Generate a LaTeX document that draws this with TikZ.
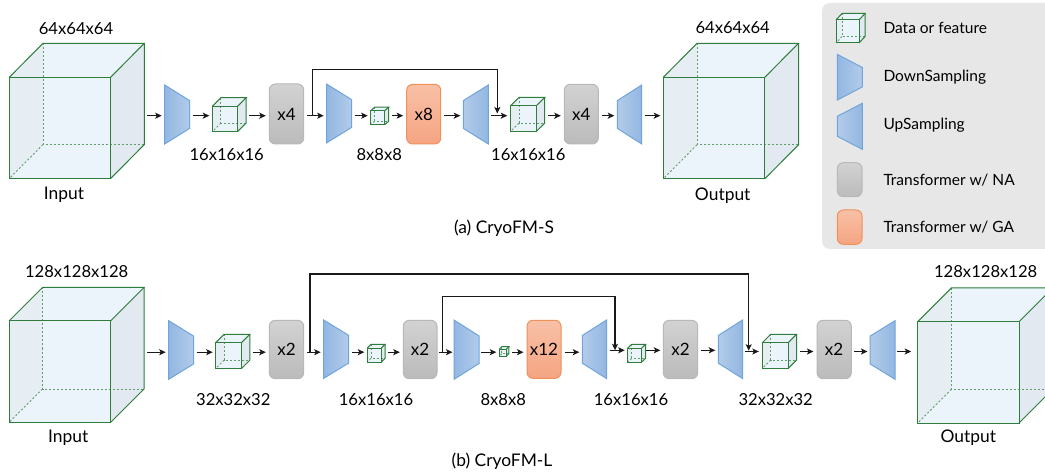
\documentclass[tikz,border=0pt]{standalone}
\usepackage{fontspec}
\setmainfont{Lato}
\usetikzlibrary{arrows.meta}
\definecolor{cubeline}{HTML}{2E7D3A}
\definecolor{cubeback}{HTML}{ECF4FB}
\definecolor{cubeleft}{HTML}{E6EEF3}
\definecolor{cuberight}{HTML}{E2E9F0}
\definecolor{blueline}{HTML}{6FA5DC}
\definecolor{bluedark}{HTML}{93B7E2}
\definecolor{bluelight}{HTML}{B2CBE9}
\definecolor{grayline}{HTML}{B8B8B8}
\definecolor{graytop}{HTML}{D2D2D2}
\definecolor{graybot}{HTML}{BBBBBB}
\definecolor{orline}{HTML}{F0905A}
\definecolor{ortop}{HTML}{F8C0A6}
\definecolor{orbot}{HTML}{F5A582}
\definecolor{legendbg}{HTML}{E7E7E7}
\tikzset{
  arr/.style={-{Stealth[length=6.5pt,width=6pt,inset=1.5pt]},line width=1.05pt,black!90},
  gap/.style={shorten >=3pt,shorten <=3pt},
  solidedge/.style={cubeline,line width=1pt,line join=miter},
  hiddenedge/.style={cubeline!75,line width=.9pt,dash pattern=on 2pt off 2pt},
  hit/.style={inner sep=0pt,outer sep=0pt,draw=none,fill=none,minimum width=#1},
  sampler/.style={draw=blueline,line width=1pt,line join=miter},
  nabox/.style={draw=grayline,line width=1pt,rounded corners=6pt,top color=graytop,bottom color=graybot,inner sep=0pt,font=\fontsize{17}{20}\selectfont},
  gabox/.style={draw=orline,line width=1pt,rounded corners=6pt,top color=ortop,bottom color=orbot,inner sep=0pt,font=\fontsize{17}{20}\selectfont},
  lab/.style={inner sep=0pt,font=\fontsize{16.6}{19}\selectfont},
  wlab/.style={inner sep=0pt,font=\fontsize{17.4}{20}\selectfont},
  leg/.style={inner sep=0pt,anchor=west,font=\fontsize{15.5}{18}\selectfont},
}
% name, front-left x, front-top y, side, dx, dy
\newcommand{\cubeshape}[6]{%
  \pgfmathsetmacro{\fl}{#2}\pgfmathsetmacro{\ft}{#3}
  \pgfmathsetmacro{\fr}{#2+#4}\pgfmathsetmacro{\fb}{#3+#4}
  \pgfmathsetmacro{\bl}{#2+#5}\pgfmathsetmacro{\bt}{#3-#6}
  \pgfmathsetmacro{\br}{#2+#4+#5}\pgfmathsetmacro{\bb}{#3+#4-#6}
  \fill[cubeback] (\fl,\ft) -- (\bl,\bt) -- (\br,\bt) -- (\br,\bb) -- (\fr,\fb) -- (\fl,\fb) -- cycle;
  \fill[cubeleft] (\fl,\ft) -- (\bl,\bt) -- (\bl,\bb) -- (\fl,\fb) -- cycle;
  \fill[cuberight] (\fr,\ft) -- (\br,\bt) -- (\br,\bb) -- (\fr,\fb) -- cycle;
  \draw[hiddenedge] (\bl,\bt) -- (\bl,\bb) -- (\br,\bb);
  \draw[hiddenedge] (\bl,\bb) -- (\fl,\fb);
  \draw[solidedge] (\fl,\ft) rectangle (\fr,\fb);
  \draw[solidedge] (\fl,\ft) -- (\bl,\bt) -- (\br,\bt) -- (\fr,\ft);
  \draw[solidedge] (\br,\bt) -- (\br,\bb) -- (\fr,\fb);
  \node[hit=#4+#5,minimum height=#4+#6] (#1) at ({#2+(#4+#5)/2},{#3-#6+(#4+#6)/2}) {};
}
% name, left x, right x, y centre, tall height, short height
\newcommand{\downs}[6]{%
  \path[sampler,left color=bluedark,right color=bluelight]
    (#2,#4-#5/2) -- (#3,#4-#6/2) -- (#3,#4+#6/2) -- (#2,#4+#5/2) -- cycle;
  \node[hit=#3-#2,minimum height=#5] (#1) at ({(#2+#3)/2},#4) {};
}
\newcommand{\ups}[6]{%
  \path[sampler,left color=bluelight,right color=bluedark]
    (#2,#4-#6/2) -- (#3,#4-#5/2) -- (#3,#4+#5/2) -- (#2,#4+#6/2) -- cycle;
  \node[hit=#3-#2,minimum height=#5] (#1) at ({(#2+#3)/2},#4) {};
}
% style, name, left, right, top, bottom, text
\newcommand{\tbox}[7]{%
  \node[#1,minimum width=#4-#3,minimum height=#6-#5] (#2) at ({(#3+#4)/2},{(#5+#6)/2}) {#7};
}
\newcommand{\link}[3]{\draw[arr,gap] (#1.east |- #3) -- (#2.west |- #3);}
\begin{document}
\begin{tikzpicture}[x=1pt,y=-1pt]
\clip (0,0) rectangle (1045,473);
\fill[white] (0,0) rectangle (1045,473);
\coordinate (rS) at (0,115.7);
\coordinate (rLa) at (0,352.2);
\coordinate (rLb) at (0,350.3);
\coordinate (rLc) at (0,351.5);

% legend
\fill[legendbg,rounded corners=8pt] (822,3) rectangle (1065,249);
\cubeshape{lgcube}{836}{20}{23}{6}{6.5}
\downs{lgdown}{837.3}{862.3}{77.2}{45.7}{19.4}
\ups{lgup}{837.3}{862.3}{126.3}{46}{20}
\tbox{nabox}{lgna}{837.3}{862}{162.7}{196.7}{}
\tbox{gabox}{lgga}{837.3}{862}{210}{244.3}{}
\node[leg] (lt1) at (883.3,28) {Data or feature};
\node[leg] (lt2) at (883.3,77) {DownSampling};
\node[leg] (lt3) at (883.3,125) {UpSampling};
\node[leg] (lt4) at (883.3,180) {Transformer w/ NA};
\node[leg] (lt5) at (883.3,227) {Transformer w/ GA};

% (a) CryoFM-S
\cubeshape{sIn}{9.3}{77.3}{101.3}{33.7}{34}
\downs{sD1}{164.7}{189.7}{114.5}{59}{27.7}
\cubeshape{sC1}{212.3}{106.3}{25.3}{8.6}{8.6}
\tbox{nabox}{sT1}{269.3}{303.7}{84}{144}{x4}
\downs{sD2}{326.7}{351.7}{113.5}{58.7}{27.7}
\cubeshape{sC2}{370.7}{110.7}{14}{4}{3.5}
\tbox{gabox}{sT2}{406.7}{440.7}{84.3}{144}{x8}
\ups{sU1}{463.3}{488.3}{114.5}{59}{27.7}
\cubeshape{sC3}{510.3}{106}{25.7}{8.7}{8.5}
\tbox{nabox}{sT3}{564.3}{598.3}{84.3}{144}{x4}
\ups{sU2}{617.3}{641.7}{114.5}{59}{27.7}
\cubeshape{sOut}{663.3}{77.3}{101.5}{33.7}{34}

\link{sIn}{sD1}{rS}
\link{sD1}{sC1}{rS}
\link{sC1}{sT1}{rS}
\link{sT1}{sD2}{rS}
\link{sD2}{sC2}{rS}
\link{sC2}{sT2}{rS}
\link{sT2}{sU1}{rS}
\link{sU1}{sC3}{rS}
\link{sC3}{sT3}{rS}
\link{sT3}{sU2}{rS}
\link{sU2}{sOut}{rS}
\coordinate (sSkipA) at (312.3,115.7);
\coordinate (sSkipB) at (497.3,113.5);
\coordinate (sSkipTop) at (0,69.7);
\draw[arr] (sSkipA) -- (sSkipA |- sSkipTop) -- (sSkipB |- sSkipTop) -- (sSkipB);

\node[lab] (sl1) at (76,29) {64x64x64};
\node[wlab] (sl2) at (64,195) {Input};
\node[lab] (sl3) at (226.7,154.3) {16x16x16};
\node[lab] (sl4) at (379.3,154.3) {8x8x8};
\node[lab] (sl5) at (528.3,154.3) {16x16x16};
\node[lab] (sl6) at (732.7,28) {64x64x64};
\node[wlab] (sl7) at (722.7,195.5) {Output};
\node[wlab] (sl8) at (504,228) {(a) CryoFM-S};

% (b) CryoFM-L
\cubeshape{lIn}{9}{321}{101.5}{33.5}{33.5}
\downs{lD1}{168.7}{193.7}{350}{58.6}{27.7}
\cubeshape{lC1}{215.7}{342.7}{25.8}{8.4}{8.4}
\tbox{nabox}{lT1}{269.3}{303.7}{320.3}{378.7}{x2}
\downs{lD2}{323.7}{348.7}{349.2}{58.3}{27.7}
\cubeshape{lC2}{367.3}{348}{14}{3.7}{3.7}
\tbox{nabox}{lT2}{403.3}{437}{320.3}{378.7}{x2}
\downs{lD3}{454}{479}{349.7}{59.3}{27.7}
\cubeshape{lC3}{499.3}{349.2}{7}{2.5}{2.5}
\tbox{gabox}{lT3}{527}{561}{320.3}{378.3}{x12}
\ups{lU1}{582.3}{606.7}{349.3}{58.7}{27.7}
\cubeshape{lC4}{627.7}{348}{14}{4}{3.7}
\tbox{nabox}{lT4}{663.3}{697.7}{320.3}{378.7}{x2}
\ups{lU2}{718.3}{742.7}{349.3}{58.7}{27.7}
\cubeshape{lC5}{762.3}{342.7}{25.8}{8.4}{8.4}
\tbox{nabox}{lT5}{817}{851.3}{320.3}{378.7}{x2}
\ups{lU3}{870}{895}{350}{58.6}{27.7}
\cubeshape{lOut}{917.7}{321.7}{101.3}{33.7}{33.7}

\link{lIn}{lD1}{rLa}
\link{lD1}{lC1}{rLa}
\link{lC1}{lT1}{rLa}
\link{lT1}{lD2}{rLa}
\link{lD2}{lC2}{rLa}
\link{lC2}{lT2}{rLa}
\draw[arr,shorten >=1.5pt,shorten <=1.5pt] (lT2.east |- rLa) -- (lD3.west |- rLa);
\draw[arr,shorten >=3pt,shorten <=2pt] (lD3.east |- rLa) -- (lC3.west |- rLa);
\link{lC3}{lT3}{rLa}
\link{lT3}{lU1}{rLa}
\link{lU1}{lC4}{rLb}
\draw[arr,shorten >=2.5pt,shorten <=.5pt] (lC4.east |- rLb) -- (lT4.west |- rLb);
\link{lT4}{lU2}{rLb}
\draw[arr,shorten >=3.5pt,shorten <=2pt] (lU2.east |- rLc) -- (lC5.west |- rLc);
\link{lC5}{lT5}{rLc}
\draw[arr,shorten >=2.5pt,shorten <=2pt] (lT5.east |- rLc) -- (lU3.west |- rLc);
\draw[arr,shorten >=6.5pt,shorten <=2pt] (lU3.east |- rLc) -- (lOut.west |- rLc);

\coordinate (lSkipA) at (310,352.2);
\coordinate (lSkipB) at (748.7,350.7);
\coordinate (lSkipTop) at (0,274);
\draw[arr] (lSkipA) -- (lSkipA |- lSkipTop) -- (lSkipB |- lSkipTop) -- (lSkipB);
\coordinate (mSkipA) at (442.3,352.2);
\coordinate (mSkipB) at (615,350.3);
\coordinate (mSkipTop) at (0,296.7);
\draw[arr] (mSkipA) -- (mSkipA |- mSkipTop) -- (mSkipB |- mSkipTop) -- (mSkipB);

\node[lab] (ll1) at (76.7,272) {128x128x128};
\node[wlab] (ll2) at (68.3,438) {Input};
\node[lab] (ll3) at (233.3,400) {32x32x32};
\node[lab] (ll4) at (376,400) {16x16x16};
\node[lab] (ll5) at (503.3,400) {8x8x8};
\node[lab] (ll6) at (631,400) {16x16x16};
\node[lab] (ll7) at (775.7,400) {32x32x32};
\node[lab] (ll8) at (985.7,272) {128x128x128};
\node[wlab] (ll9) at (968.3,438) {Output};
\node[wlab] (ll10) at (502,461) {(b) CryoFM-L};
\end{tikzpicture}
\end{document}
